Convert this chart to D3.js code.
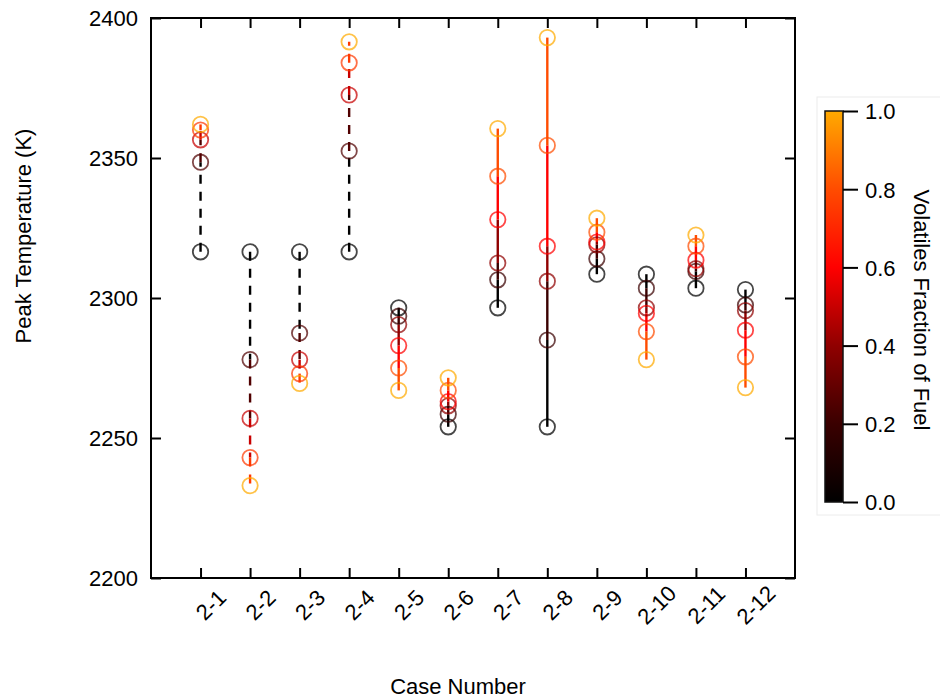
<!DOCTYPE html>
<html>
<head>
<meta charset="utf-8">
<script src="https://cdn.jsdelivr.net/npm/d3@7"></script>
<style>
  html, body { margin: 0; padding: 0; background: #fff; }
  svg { display: block; font-family: "Liberation Sans", Arial, Helvetica, sans-serif; }
</style>
</head>
<body>
<svg id="chart" width="940" height="700"></svg>
<script>
// Case labels along the x axis
const cases = ["2-1", "2-2", "2-3", "2-4", "2-5", "2-6", "2-7", "2-8", "2-9", "2-10", "2-11", "2-12"];

// Volatile fractions sampled per case (cases 2-1..2-4 use quarter steps)
const fractionsQuarter = [0, 0.25, 0.5, 0.75, 1.0];
const fractionsFifth = [0, 0.2, 0.4, 0.6, 0.8, 1.0];

// Peak temperature (K) for each case, ordered by increasing volatile fraction
const temp_2_1  = [2316.5, 2348.5, 2356.5, 2360.0, 2362.0];
const temp_2_2  = [2316.5, 2278.0, 2257.0, 2243.0, 2233.0];
const temp_2_3  = [2316.5, 2287.5, 2278.0, 2273.0, 2269.5];
const temp_2_4  = [2316.5, 2352.5, 2372.5, 2384.0, 2391.5];
const temp_2_5  = [2296.5, 2293.5, 2290.5, 2283.0, 2275.0, 2267.0];
const temp_2_6  = [2254.0, 2258.5, 2261.5, 2263.0, 2267.0, 2271.5];
const temp_2_7  = [2296.5, 2306.5, 2312.5, 2328.0, 2343.5, 2360.5];
const temp_2_8  = [2254.0, 2285.0, 2306.0, 2318.5, 2354.5, 2393.0];
const temp_2_9  = [2308.5, 2314.0, 2319.0, 2320.0, 2323.5, 2328.5];
const temp_2_10 = [2308.5, 2303.5, 2296.5, 2294.5, 2288.0, 2278.0];
const temp_2_11 = [2303.5, 2309.5, 2310.5, 2313.5, 2318.5, 2322.5];
const temp_2_12 = [2303.0, 2297.5, 2295.5, 2288.5, 2279.0, 2268.0];

const peakTemps = [temp_2_1, temp_2_2, temp_2_3, temp_2_4, temp_2_5, temp_2_6,
                   temp_2_7, temp_2_8, temp_2_9, temp_2_10, temp_2_11, temp_2_12];
const dashedCases = ["2-1", "2-2", "2-3", "2-4"];

// Axis ticks
const yTicks = [2200, 2250, 2300, 2350, 2400];
const cbTicks = [0, 0.2, 0.4, 0.6, 0.8, 1.0];

// Colormap: black -> dark red -> red -> orange-red -> orange
const cmapStops = [0, 0.2, 0.4, 0.6, 0.8, 1.0];
const cmapColors = ["#000000", "#3a0000", "#900000", "#ff0000", "#ff4c00", "#ffaa00"];

const svg = d3.select("#chart");
const FONT = 22;

const plot = { left: 151, right: 795, top: 18, bottom: 578 };

const x = d3.scaleLinear().domain([0, cases.length + 1]).range([plot.left, plot.right]);
const y = d3.scaleLinear().domain([2200, 2400]).range([plot.bottom, plot.top]);
const color = d3.scaleLinear().domain(cmapStops).range(cmapColors).clamp(true);

// Build point records
const series = cases.map((c, i) => {
  const fr = peakTemps[i].length === 5 ? fractionsQuarter : fractionsFifth;
  return {
    name: c,
    pos: i + 1,
    dashed: dashedCases.includes(c),
    points: peakTemps[i].map((t, k) => ({ t, f: fr[k] }))
  };
});

// Connecting segments, each coloured by the lower-fraction end
const lineG = svg.append("g");
series.forEach(s => {
  for (let k = 0; k < s.points.length - 1; k++) {
    const a = s.points[k], b = s.points[k + 1];
    lineG.append("line")
      .attr("x1", x(s.pos)).attr("x2", x(s.pos))
      .attr("y1", y(a.t)).attr("y2", y(b.t))
      .attr("stroke", color(a.f))
      .attr("stroke-width", 2.4)
      .attr("stroke-dasharray", s.dashed ? "9,8" : null);
  }
});

// Hollow markers
const markG = svg.append("g");
series.forEach(s => {
  markG.selectAll(null)
    .data(s.points)
    .enter().append("circle")
    .attr("cx", x(s.pos))
    .attr("cy", d => y(d.t))
    .attr("r", 7.7)
    .attr("fill", "none")
    .attr("stroke", d => color(d.f))
    .attr("stroke-opacity", 0.72)
    .attr("stroke-width", 1.8);
});

// Axes with inward ticks on all four sides
const catTicks = d3.range(1, cases.length + 1);

const yAxisL = d3.axisLeft(y).tickValues(yTicks).tickFormat(d3.format("d"))
  .tickSize(-10).tickPadding(13);
const yAxisR = d3.axisRight(y).tickValues(yTicks).tickFormat("").tickSize(-10);
const xAxisB = d3.axisBottom(x).tickValues(catTicks).tickFormat(d => cases[d - 1])
  .tickSize(-10).tickPadding(0);
const xAxisT = d3.axisTop(x).tickValues(catTicks).tickFormat("").tickSize(-10);

function styleAxis(g) {
  g.select(".domain").remove();
  g.selectAll(".tick line").attr("stroke", "#000").attr("stroke-width", 2);
  g.selectAll("text").attr("fill", "#000").style("font-size", FONT + "px")
    .style("font-family", "'Liberation Sans', Arial, sans-serif");
}

svg.append("g").attr("transform", `translate(${plot.left},0)`).call(yAxisL).call(styleAxis)
  .selectAll("text").attr("dy", "0.36em");
svg.append("g").attr("transform", `translate(${plot.right},0)`).call(yAxisR).call(styleAxis);
svg.append("g").attr("transform", `translate(0,${plot.top})`).call(xAxisT).call(styleAxis);

const gb = svg.append("g").attr("transform", `translate(0,${plot.bottom})`).call(xAxisB).call(styleAxis);
gb.selectAll(".tick text")
  .attr("y", 0).attr("dy", null)
  .attr("text-anchor", "middle")
  .attr("dominant-baseline", "central")
  .attr("transform", "translate(10,27) rotate(-45)");

// Frame
svg.append("rect")
  .attr("x", plot.left).attr("y", plot.top)
  .attr("width", plot.right - plot.left).attr("height", plot.bottom - plot.top)
  .attr("fill", "none").attr("stroke", "#000").attr("stroke-width", 2);

// Axis titles
svg.append("text")
  .attr("x", 458).attr("y", 694)
  .attr("text-anchor", "middle")
  .style("font-size", FONT + "px")
  .text("Case Number");

svg.append("text")
  .attr("transform", "translate(31,236) rotate(-90)")
  .attr("text-anchor", "middle")
  .style("font-size", FONT + "px")
  .text("Peak Temperature (K)");

// Colorbar
const cb = { x: 825, w: 18, top: 111, bottom: 502 };
svg.append("rect")
  .attr("x", 817).attr("y", 97).attr("width", 140).attr("height", 418)
  .attr("fill", "none").attr("stroke", "#ececec").attr("stroke-width", 1);

const cbScale = d3.scaleLinear().domain([0, 1]).range([cb.bottom, cb.top]);
const grad = svg.append("defs").append("linearGradient")
  .attr("id", "cbGrad").attr("x1", 0).attr("y1", 1).attr("x2", 0).attr("y2", 0);
grad.selectAll("stop").data(cmapStops).enter().append("stop")
  .attr("offset", d => d)
  .attr("stop-color", d => color(d));

svg.append("rect")
  .attr("x", cb.x).attr("y", cb.top)
  .attr("width", cb.w).attr("height", cb.bottom - cb.top)
  .attr("fill", "url(#cbGrad)")
  .attr("stroke", "#111").attr("stroke-width", 1.5);

const cbAxis = d3.axisRight(cbScale).tickValues(cbTicks).tickFormat(d3.format(".1f"))
  .tickSize(15).tickPadding(7);
svg.append("g").attr("transform", `translate(${cb.x + cb.w},0)`).call(cbAxis).call(styleAxis)
  .selectAll("text").attr("dy", "0.36em");

svg.append("text")
  .attr("transform", "translate(914,310) rotate(90)")
  .attr("text-anchor", "middle")
  .style("font-size", FONT + "px")
  .text("Volatiles Fraction of Fuel");
</script>
</body>
</html>
